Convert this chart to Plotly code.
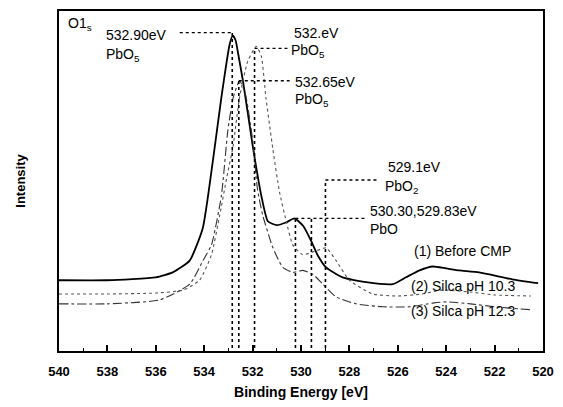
import plotly.graph_objects as go

# ---- data (binding energy in eV, intensity in a.u.) ----
e_before = [540, 538, 536, 535.3, 534.6, 534.06, 533.65, 533.29, 532.95, 532.82, 532.7,
            532.6, 532.4, 531.99, 531.64, 531.37, 531.0, 530.6, 530.27, 529.9, 529.58,
            529.3, 528.96, 528.28, 527.31, 526.21, 525.66, 525.1, 524.56, 524.0, 523.46,
            522.64, 521.27, 520.2]
i_before = [72, 72, 75, 80, 92, 125, 192, 258, 312, 321, 316,
            303, 275, 208, 158, 132, 128, 131, 135, 127, 112,
            97, 85, 75, 70, 68, 75, 82, 86, 84, 82,
            80, 73, 69]

e_ph103 = [540, 538, 536, 534.87, 534.19, 533.7, 533.36, 533.08, 532.81, 532.54, 532.2,
           531.85, 531.64, 531.45, 531.16, 530.89, 530.61, 530.34, 529.93, 529.37, 528.96,
           528.55, 528.0, 527.04, 526.0, 525.0, 524.2, 523.0, 522.0, 520.5]
i_ph103 = [58, 58, 59, 62, 72, 98, 138, 175, 208, 258, 295,
           310, 300, 258, 205, 162, 132, 108, 98, 102, 105,
           92, 72, 58, 56, 58, 62, 60, 57, 56]

e_ph123 = [540, 538, 535.83, 534.6, 534.05, 533.7, 533.29, 533.02, 532.8, 532.54, 532.3,
           532.0, 531.8, 531.58, 531.16, 530.75, 530.34, 529.93, 529.5, 529.1, 528.55,
           527.73, 526.63, 525.5, 524.5, 524.0, 523.0, 522.0, 520.5]
i_ph123 = [48, 48, 52, 68, 92, 108, 158, 225, 258, 275, 262,
           215, 165, 138, 105, 85, 80, 82, 78, 68, 55,
           48, 45, 45, 49, 50, 48, 45, 42]

series_names = ["(1) Before CMP", "(2) Silca pH 10.3", "(3) Silca pH 12.3"]

# reference (vertical dotted) lines: energy and top of each line
ref_energy = [532.84, 532.57, 531.92, 530.23, 529.57, 528.99]
ref_top = [324, 275, 308, 135, 135, 174]
ref_bottom = 3

# leader lines: from energy to energy at a height
lead_from = [535.01, 532.57, 531.92, 530.23, 528.99]
lead_to = [532.84, 530.47, 530.56, 527.34, 526.76]
lead_y = [324, 275, 308, 135, 174]

X0, X1 = 540, 520
Y0, Y1 = 0, 346
L, R, T, B = 59, 20, 9, 52
W, H = 563, 407
pw = W - L - R
ph = H - T - B


def px2x(px):
    return X0 + (px - L) / pw * (X1 - X0)


def py2y(py):
    return Y1 - (py - T) / ph * (Y1 - Y0)


fig = go.Figure()

fig.add_trace(go.Scatter(x=e_before, y=i_before, mode="lines", name=series_names[0],
                         line=dict(color="black", width=1.8, shape="spline", smoothing=0.5)))
fig.add_trace(go.Scatter(x=e_ph103, y=i_ph103, mode="lines", name=series_names[1],
                         line=dict(color="#555555", width=1.1, dash="dot", shape="spline", smoothing=0.5)))
fig.add_trace(go.Scatter(x=e_ph123, y=i_ph123, mode="lines", name=series_names[2],
                         line=dict(color="#333333", width=1.1, dash="dashdot", shape="spline", smoothing=0.5)))

# vertical dotted reference lines
for e, top in zip(ref_energy, ref_top):
    fig.add_trace(go.Scatter(x=[e, e], y=[ref_bottom, top], mode="lines", showlegend=False,
                             hoverinfo="skip",
                             line=dict(color="black", width=1.6, dash="dot")))
# horizontal leaders
for a, b, y in zip(lead_from, lead_to, lead_y):
    fig.add_trace(go.Scatter(x=[a, b], y=[y, y], mode="lines", showlegend=False,
                             hoverinfo="skip",
                             line=dict(color="black", width=1.3, dash="dot")))

FONT = "Liberation Sans, Arial, sans-serif"
labels = [
    ("O1<sub>s</sub>", 66, 22),
    ("532.90eV", 104, 33),
    ("PbO<sub>5</sub>", 104, 54),
    ("532.eV", 292, 31),
    ("PbO<sub>5</sub>", 289, 50),
    ("532.65eV", 293, 81),
    ("PbO<sub>5</sub>", 293, 100),
    ("529.1eV", 386, 168),
    ("PbO<sub>2</sub>", 383, 188),
    ("530.30,529.83eV", 368, 213),
    ("PbO", 368, 231),
    (series_names[0], 412, 253),
    (series_names[1], 409, 289),
    (series_names[2], 409, 314),
]
for txt, px, py in labels:
    fig.add_annotation(x=px2x(px), y=py2y(py), xref="x", yref="y", text=txt,
                       showarrow=False, xanchor="left", yanchor="middle",
                       font=dict(family=FONT, size=14, color="black"))

tick_vals = list(range(540, 519, -2))
fig.update_xaxes(range=[X0, X1], tickvals=tick_vals,
                 ticktext=[f"<b>{v}</b>" for v in tick_vals],
                 ticks="inside", ticklen=6, tickwidth=1.5, tickcolor="black",
                 minor=dict(dtick=1, ticks="inside", ticklen=3, tickwidth=1.2, tickcolor="black"),
                 showline=True, linecolor="black", linewidth=2, mirror=True,
                 showgrid=False, zeroline=False, ticklabelstandoff=7,
                 tickfont=dict(family=FONT, size=13, color="black"),
                 title=dict(text="<b>Binding Energy [eV]</b>", standoff=10,
                            font=dict(family=FONT, size=14, color="black")))
fig.update_yaxes(range=[Y0, Y1], showticklabels=False, ticks="",
                 showline=True, linecolor="black", linewidth=2, mirror=True,
                 showgrid=False, zeroline=False,
                 title=dict(text="<b>Intensity</b>", standoff=28,
                            font=dict(family=FONT, size=13, color="black")))

fig.update_layout(width=W, height=H, margin=dict(l=L, r=R, t=T, b=B),
                  paper_bgcolor="white", plot_bgcolor="white", showlegend=False)

fig.write_html("out.html", config={"displayModeBar": False},
               post_script="document.body.style.margin='0';")
